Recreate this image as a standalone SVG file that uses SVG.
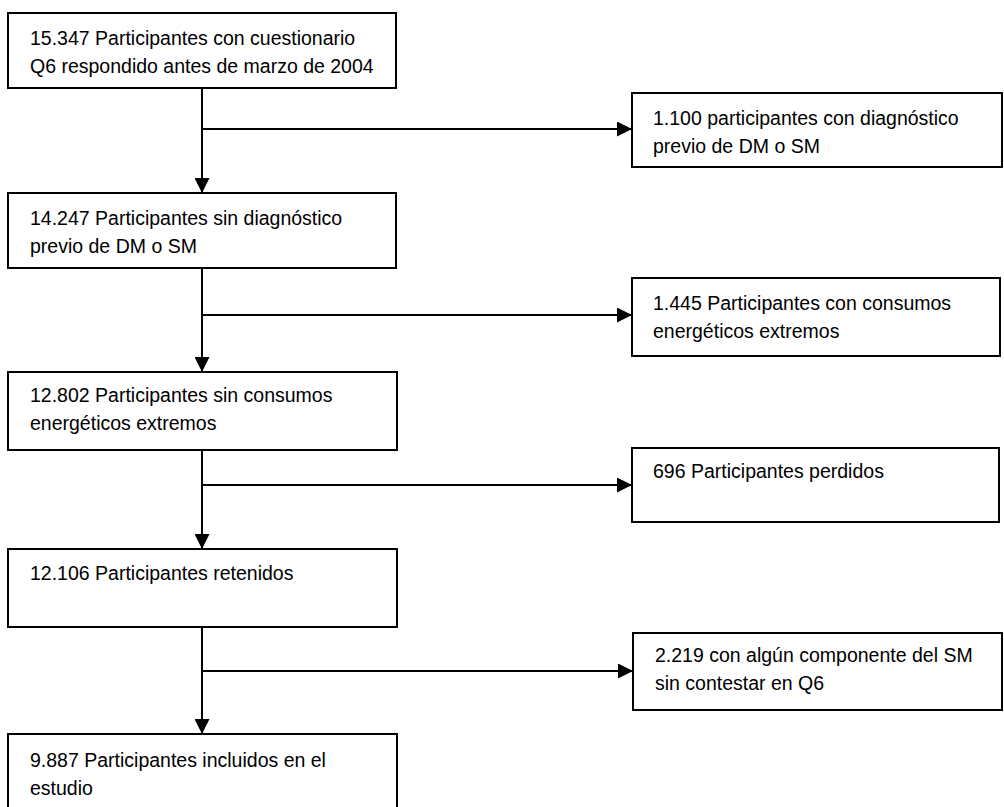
<svg xmlns="http://www.w3.org/2000/svg" width="1004" height="807" viewBox="0 0 1004 807">
<style>
.box{fill:#fff;stroke:#000;stroke-width:2}
.t{font-family:"Liberation Sans",Arial,sans-serif;font-size:19.5px;fill:#000}
.c{stroke:#000;stroke-width:2;fill:none}
</style>
<defs>
<marker id="ah" viewBox="0 0 10 10" refX="10" refY="5" markerWidth="15" markerHeight="15" markerUnits="userSpaceOnUse" orient="auto">
<path d="M0,0 L10,5 L0,10 Z" fill="#000"/>
</marker>
</defs>
<rect width="1004" height="807" fill="#fff"/>
<g id="connectors">
<line class="c" x1="202" y1="88" x2="202" y2="193" marker-end="url(#ah)"/>
<line class="c" x1="202" y1="129" x2="632" y2="129" marker-end="url(#ah)"/>
<line class="c" x1="202" y1="268" x2="202" y2="372" marker-end="url(#ah)"/>
<line class="c" x1="202" y1="315" x2="632" y2="315" marker-end="url(#ah)"/>
<line class="c" x1="202" y1="450" x2="202" y2="549" marker-end="url(#ah)"/>
<line class="c" x1="202" y1="485" x2="632" y2="485" marker-end="url(#ah)"/>
<line class="c" x1="202" y1="627" x2="202" y2="734" marker-end="url(#ah)"/>
<line class="c" x1="202" y1="671" x2="633" y2="671" marker-end="url(#ah)"/>
</g>
<g id="n1">
<rect class="box" x="8" y="13" width="388" height="75"/>
<text class="t" x="30" y="45">15.347 Participantes con cuestionario</text>
<text class="t" x="30" y="73">Q6 respondido antes de marzo de 2004</text>
</g>
<g id="e1">
<rect class="box" x="632" y="93" width="370" height="74"/>
<text class="t" x="653" y="125">1.100 participantes con diagnóstico</text>
<text class="t" x="653" y="153">previo de DM o SM</text>
</g>
<g id="n2">
<rect class="box" x="8" y="193" width="388" height="75"/>
<text class="t" x="30" y="225">14.247 Participantes sin diagnóstico</text>
<text class="t" x="30" y="253">previo de DM o SM</text>
</g>
<g id="e2">
<rect class="box" x="632" y="278" width="368" height="78"/>
<text class="t" x="653" y="310">1.445 Participantes con consumos</text>
<text class="t" x="653" y="338">energéticos extremos</text>
</g>
<g id="n3">
<rect class="box" x="8" y="372" width="389" height="78"/>
<text class="t" x="30" y="402">12.802 Participantes sin consumos</text>
<text class="t" x="30" y="430">energéticos extremos</text>
</g>
<g id="e3">
<rect class="box" x="632" y="448" width="367" height="74"/>
<text class="t" x="653" y="478">696 Participantes perdidos</text>
</g>
<g id="n4">
<rect class="box" x="8" y="549" width="389" height="78"/>
<text class="t" x="30" y="580">12.106 Participantes retenidos</text>
</g>
<g id="e4">
<rect class="box" x="633" y="633" width="369" height="77"/>
<text class="t" x="655" y="662">2.219 con algún componente del SM</text>
<text class="t" x="655" y="690">sin contestar en Q6</text>
</g>
<g id="n5">
<rect class="box" x="8" y="734" width="389" height="90"/>
<text class="t" x="30" y="767">9.887 Participantes incluidos en el</text>
<text class="t" x="30" y="795">estudio</text>
</g>
</svg>
